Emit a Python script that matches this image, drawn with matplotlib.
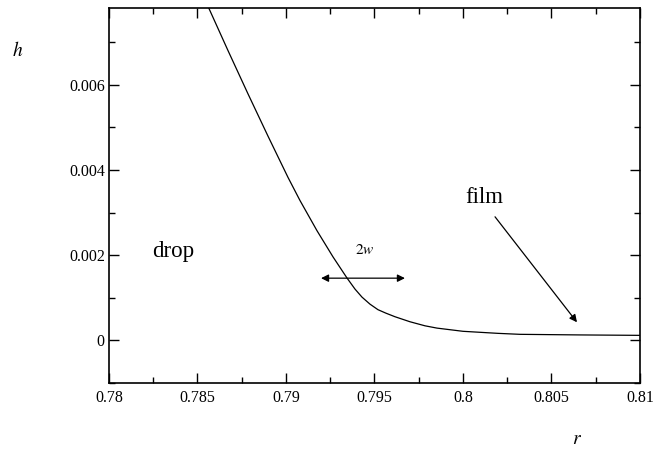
import matplotlib
matplotlib.use("Agg")
import matplotlib.pyplot as plt
from matplotlib.ticker import MultipleLocator

r_vals = [0.785593, 0.786723, 0.787853, 0.788983, 0.790113, 0.790791, 0.791751,
          0.792655, 0.793446, 0.793898, 0.794294, 0.794746, 0.795198, 0.795650,
          0.796158, 0.797006, 0.797853, 0.798531, 0.800000, 0.801977, 0.803220,
          0.806610, 0.810000]
h_vals = [0.007839, 0.006801, 0.005785, 0.004793, 0.003825, 0.003282, 0.002574,
          0.001960, 0.001464, 0.001204, 0.001015, 0.000850, 0.000720, 0.000638,
          0.000555, 0.000437, 0.000342, 0.000288, 0.000213, 0.000165, 0.000142,
          0.000128, 0.000118]

x_ticks = [0.78, 0.785, 0.79, 0.795, 0.8, 0.805, 0.81]
x_labels = ["0.78", "0.785", "0.79", "0.795", "0.8", "0.805", "0.81"]
y_ticks = [0, 0.002, 0.004, 0.006]
y_labels = ["0", "0.002", "0.004", "0.006"]

plt.rcParams['font.family'] = ['Liberation Serif', 'DejaVu Serif']
plt.rcParams['mathtext.fontset'] = 'stix'

fig = plt.figure(figsize=(6.63, 4.49), dpi=100)
ax = fig.add_axes([0.1644, 0.147, 0.8009, 0.8352])
ax.plot(r_vals, h_vals, color='black', lw=0.9)

ax.set_xlim(0.78, 0.81)
ax.set_ylim(-0.001, 0.0078)
ax.set_xticks(x_ticks)
ax.set_xticklabels(x_labels)
ax.set_yticks(y_ticks)
ax.set_yticklabels(y_labels)
ax.xaxis.set_minor_locator(MultipleLocator(0.0025))
ax.yaxis.set_minor_locator(MultipleLocator(0.001))
ax.tick_params(which='both', direction='in', top=True, right=True, labelsize=11.5, width=1.0)
ax.tick_params(which='major', length=7)
ax.tick_params(which='minor', length=4)
ax.tick_params(axis='x', pad=5)
ax.tick_params(axis='y', pad=3)
for s in ax.spines.values():
    s.set_linewidth(1.2)

ax.text(0.78362, 0.00208, "drop", fontsize=16.5, ha='center', va='center')
ax.text(0.80119, 0.00335, "film", fontsize=16.5, ha='center', va='center')
ax.text(0.79446, 0.00213, "$2w$", fontsize=11, ha='center', va='center')
ax.annotate("", xy=(0.79198, 0.00146), xytext=(0.79672, 0.00146),
            arrowprops=dict(arrowstyle='<|-|>', color='black', lw=0.9,
                            mutation_scale=11, shrinkA=0, shrinkB=0))
ax.annotate("", xy=(0.80644, 0.000425), xytext=(0.80181, 0.0029),
            arrowprops=dict(arrowstyle='-|>', color='black', lw=0.9,
                            mutation_scale=11, shrinkA=0, shrinkB=0))

fig.text(18/663, 1 - 50/449, "$h$", fontsize=14, ha='center', va='center')
fig.text(577/663, 1 - 440/449, "$r$", fontsize=14, ha='center', va='center')

fig.savefig("out.png", dpi=100)
